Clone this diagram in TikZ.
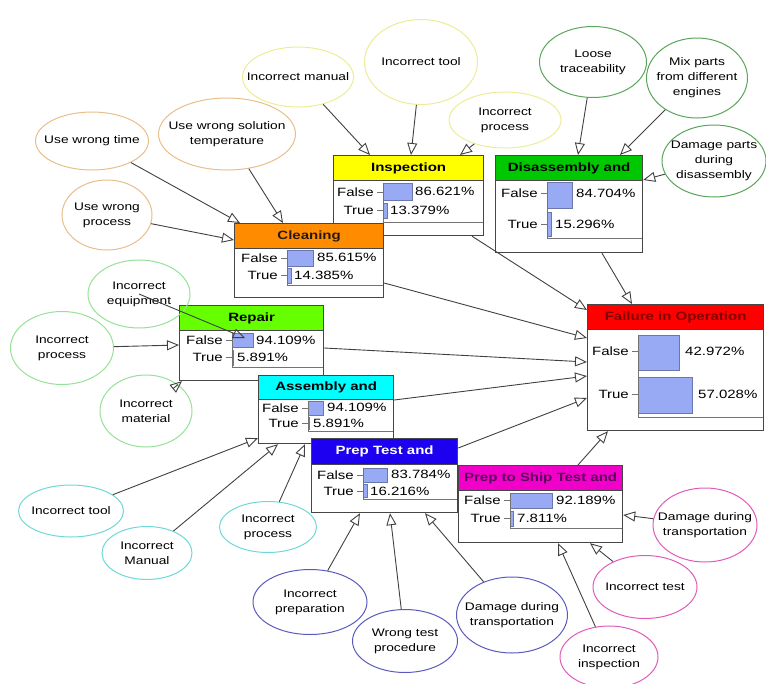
\documentclass[tikz,border=0pt]{standalone}
\usepackage{fontspec}
\setmainfont{Liberation Sans}[FakeStretch=1.25]
\usetikzlibrary{shapes.geometric,arrows.meta}

\definecolor{boxline}{RGB}{70,70,70}
\definecolor{barblue}{RGB}{153,170,245}
\definecolor{hdInsp}{RGB}{255,255,0}
\definecolor{hdDisa}{RGB}{0,200,0}
\definecolor{hdClea}{RGB}{255,140,0}
\definecolor{hdRepa}{RGB}{102,255,0}
\definecolor{hdAsse}{RGB}{0,255,255}
\definecolor{hdPrep}{RGB}{30,0,240}
\definecolor{hdShip}{RGB}{240,0,200}
\definecolor{hdFail}{RGB}{255,0,0}
\definecolor{ovYellow}{RGB}{236,236,150}
\definecolor{ovOrange}{RGB}{232,190,140}
\definecolor{ovGreen}{RGB}{90,165,90}
\definecolor{ovLime}{RGB}{150,225,150}
\definecolor{ovCyan}{RGB}{110,215,215}
\definecolor{ovBlue}{RGB}{90,90,190}
\definecolor{ovPink}{RGB}{225,90,185}

\tikzset{
  box/.style={draw=boxline, fill=white, line width=1.2pt, anchor=north west, inner sep=0},
  head/.style={draw=boxline, line width=1.2pt, anchor=north west, minimum height=25, inner sep=0,
    font=\fontsize{12}{14}\selectfont\bfseries},
  bar/.style={fill=barblue, draw=barblue!70!black, line width=0.4pt},
  axis/.style={draw=black!55, line width=0.8pt},
  row/.style={anchor=east, inner sep=0, font=\fontsize{12}{14}\selectfont},
  pct/.style={anchor=west, inner sep=0, font=\fontsize{12}{14}\selectfont},
  oval/.style={ellipse, draw=#1, line width=1pt, inner xsep=-25pt, inner ysep=0pt, align=center,
    font=\fontsize{11}{15}\selectfont},
  arr/.style={draw=black!75, line width=0.9pt, -{Triangle[open,length=12pt,width=10pt]}}
}

\begin{document}
\begin{tikzpicture}[x=1pt,y=-1pt]
\useasboundingbox (0,0) rectangle (766,683);

\node [box, minimum width=150, minimum height=80] (insp) at (333,155) {};
\node [head, fill=hdInsp, minimum width=150] (inspH) at (insp.north west) {Inspection};
\draw [bar] (383,183) rectangle (412,200);
\draw [bar] (383,203) rectangle (387.5,218);
\draw [axis] (383,183) -- (383,222) -- (483,222);
\draw [axis] (377,192) -- (383,192) (377,210) -- (383,210);
\node [row] (inspF) at (374,192) {False};
\node [row] (inspT) at (374,210) {True};
\node [pct] (inspFp) at (415,191) {86.621\%};
\node [pct] (inspTp) at (390,210) {13.379\%};

\node [box, minimum width=147, minimum height=97] (disa) at (495,155) {};
\node [head, fill=hdDisa, minimum width=147] (disaH) at (disa.north west) {Disassembly and};
\draw [bar] (547,182) rectangle (572,208);
\draw [bar] (547,212) rectangle (551.5,236);
\draw [axis] (547,182) -- (547,238) -- (642,238);
\draw [axis] (541,193) -- (547,193) (541,224) -- (547,224);
\node [row] (disaF) at (538,193) {False};
\node [row] (disaT) at (538,224) {True};
\node [pct] (disaFp) at (576,193) {84.704\%};
\node [pct] (disaTp) at (555,224) {15.296\%};

\node [box, minimum width=149, minimum height=74] (clea) at (234,223) {};
\node [head, fill=hdClea, minimum width=149, text=black!80!brown] (cleaH) at (clea.north west) {Cleaning};
\draw [bar] (287,250) rectangle (313,266);
\draw [bar] (287,268) rectangle (291.5,283);
\draw [axis] (287,250) -- (287,285) -- (383,285);
\draw [axis] (281,258) -- (287,258) (281,275) -- (287,275);
\node [row] (cleaF) at (278,258) {False};
\node [row] (cleaT) at (278,275) {True};
\node [pct] (cleaFp) at (317,257) {85.615\%};
\node [pct] (cleaTp) at (294,275) {14.385\%};

\node [box, minimum width=144, minimum height=75] (repa) at (179,305) {};
\node [head, fill=hdRepa, minimum width=144] (repaH) at (repa.north west) {Repair};
\draw [bar] (232,333) rectangle (253,347);
\draw [bar] (232,350) rectangle (233.5,365);
\draw [axis] (232,333) -- (232,367) -- (323,367);
\draw [axis] (226,340) -- (232,340) (226,357) -- (232,357);
\node [row] (repaF) at (223,340) {False};
\node [row] (repaT) at (223,357) {True};
\node [pct] (repaFp) at (256,340) {94.109\%};
\node [pct] (repaTp) at (237,357) {5.891\%};

\node [box, minimum width=135, minimum height=68] (asse) at (258,375) {};
\node [head, fill=hdAsse, minimum width=135, minimum height=24] (asseH) at (asse.north west) {Assembly and};
\draw [bar] (308,401) rectangle (323,415);
\draw [bar] (308,417) rectangle (309,429);
\draw [axis] (308,401) -- (308,431) -- (393,431);
\draw [axis] (302,408) -- (308,408) (302,423) -- (308,423);
\node [row] (asseF) at (299,408) {False};
\node [row] (asseT) at (299,423) {True};
\node [pct] (asseFp) at (327,407) {94.109\%};
\node [pct] (asseTp) at (313,423) {5.891\%};

\node [box, minimum width=146, minimum height=74] (prep) at (311,438) {};
\node [head, fill=hdPrep, minimum width=146, minimum height=26, text=white] (prepH) at (prep.north west) {Prep Test and};
\draw [bar] (363,468) rectangle (387,482);
\draw [bar] (363,484) rectangle (367.5,497);
\draw [axis] (363,468) -- (363,499) -- (457,499);
\draw [axis] (357,475) -- (363,475) (357,491) -- (363,491);
\node [row] (prepF) at (354,475) {False};
\node [row] (prepT) at (354,491) {True};
\node [pct] (prepFp) at (391,474) {83.784\%};
\node [pct] (prepTp) at (370,491) {16.216\%};

\node [box, minimum width=164, minimum height=77] (ship) at (458,465) {};
\node [head, fill=hdShip, minimum width=164, text={rgb,255:red,90;green,0;blue,90}] (shipH) at (ship.north west) {Prep to Ship Test and};
\draw [bar] (510,493) rectangle (552,508);
\draw [bar] (510,511) rectangle (513.5,526);
\draw [axis] (510,493) -- (510,528) -- (622,528);
\draw [axis] (504,500) -- (510,500) (504,518) -- (510,518);
\node [row] (shipF) at (501,500) {False};
\node [row] (shipT) at (501,518) {True};
\node [pct] (shipFp) at (556,500) {92.189\%};
\node [pct] (shipTp) at (517,518) {7.811\%};

\node [box, minimum width=176, minimum height=126] (fail) at (587,304) {};
\node [head, fill=hdFail, minimum width=176, text={rgb,255:red,130;green,0;blue,0}] (failH) at (fail.north west) {Failure in Operation};
\draw [bar] (638,335) rectangle (679,370);
\draw [bar] (638,377) rectangle (692.5,413);
\draw [axis] (638,335) -- (638,417) -- (763,417);
\draw [axis] (632,351) -- (638,351) (632,394) -- (638,394);
\node [row] (failF) at (629,351) {False};
\node [row] (failT) at (629,394) {True};
\node [pct] (failFp) at (685,351) {42.972\%};
\node [pct] (failTp) at (698,394) {57.028\%};

\node [oval=ovYellow, minimum width=111, minimum height=60] (im) at (298,77) {Incorrect manual};
\node [oval=ovYellow, minimum width=113, minimum height=85] (it) at (421,62) {Incorrect tool};
\node [oval=ovYellow, minimum width=112, minimum height=56] (ip) at (505,120) {Incorrect\\process};

\node [oval=ovOrange, minimum width=113, minimum height=58] (uwt) at (92,141) {Use wrong time};
\node [oval=ovOrange, minimum width=137, minimum height=72] (uws) at (227,134) {Use wrong solution\\temperature};
\node [oval=ovOrange, minimum width=90, minimum height=70] (uwp) at (107,215) {Use wrong\\process};

\node [oval=ovGreen, minimum width=107, minimum height=71] (lt) at (593,62) {Loose\\traceability};
\node [oval=ovGreen, minimum width=101, minimum height=80] (mp) at (697,78) {Mix parts\\from different\\engines};
\node [oval=ovGreen, minimum width=104, minimum height=72] (dp) at (714,161) {Damage parts\\during\\disassembly};

\node [oval=ovLime, minimum width=102, minimum height=68] (ie) at (139,294) {Incorrect\\equipment};
\node [oval=ovLime, minimum width=103, minimum height=73] (ipr) at (62,348) {Incorrect\\process};
\node [oval=ovLime, minimum width=92, minimum height=72] (imat) at (146,411) {Incorrect\\material};

\node [oval=ovCyan, minimum width=105, minimum height=52] (itool) at (71,511) {Incorrect tool};
\node [oval=ovCyan, minimum width=90, minimum height=53] (iman) at (147,553) {Incorrect\\Manual};
\node [oval=ovCyan, minimum width=97, minimum height=51] (iproc) at (268,527) {Incorrect\\process};

\node [oval=ovBlue, minimum width=114, minimum height=65] (iprep) at (310,602) {Incorrect\\preparation};
\node [oval=ovBlue, minimum width=105, minimum height=63] (wtp) at (405,641) {Wrong test\\procedure};
\node [oval=ovBlue, minimum width=111, minimum height=76] (ddt) at (512,615) {Damage during\\transportation};

\node [oval=ovPink, minimum width=104, minimum height=74] (dts) at (705,525) {Damage during\\transportation};
\node [oval=ovPink, minimum width=104, minimum height=63] (itest) at (645,587) {Incorrect test};
\node [oval=ovPink, minimum width=98, minimum height=62] (iinsp) at (609,657) {Incorrect\\inspection};

\draw [arr] (im) -- ([xshift=37pt]insp.north west);
\draw [arr] (it) -- ([xshift=78pt]insp.north west);
\draw [arr] (ip) -- ([xshift=127pt]insp.north west);

\draw [arr] (uwt) -- ([xshift=6pt]clea.north west);
\draw [arr] (uws) -- ([xshift=49pt]clea.north west);
\draw [arr] (uwp) -- ([yshift=-17pt]clea.north west);

\draw [arr] (lt) -- ([xshift=83pt]disa.north west);
\draw [arr] (mp) -- ([xshift=125pt]disa.north west);
\draw [arr] (dp) -- ([yshift=-25pt]disa.north east);

\draw [arr] (ie.center) -- ([xshift=66pt,yshift=-33pt]repa.north west);
\draw [arr] (ipr) -- ([yshift=-40pt]repa.north west);
\draw [arr] (imat) -- ([xshift=3pt]repa.south west);

\draw [arr] (itool) -- ([yshift=6pt]asse.south west);
\draw [arr] (iman) -- ([xshift=20pt]asse.south west);
\draw [arr] (iproc) -- ([xshift=47pt]asse.south west);

\draw [arr] (iprep) -- ([xshift=49pt]prep.south west);
\draw [arr] (wtp) -- ([xshift=79pt]prep.south west);
\draw [arr] (ddt) -- ([xshift=114pt]prep.south west);

\draw [arr] (dts) -- ([yshift=-50pt]ship.north east);
\draw [arr] (itest) -- ([xshift=132pt]ship.south west);
\draw [arr] (iinsp) -- ([xshift=100pt]ship.south west);

\draw [arr] ([xshift=139pt]insp.south west) -- ([yshift=-6pt]fail.north west);
\draw [arr] ([xshift=107pt]disa.south west) -- ([xshift=45pt]fail.north west);
\draw [arr] ([yshift=-60pt]clea.north east) -- ([yshift=-34pt]fail.north west);
\draw [arr] ([yshift=-43pt]repa.north east) -- ([yshift=-58pt]fail.north west);
\draw [arr] ([yshift=-25pt]asse.north east) -- ([yshift=-72pt]fail.north west);
\draw [arr] ([yshift=-10pt]prep.north east) -- ([yshift=-94pt]fail.north west);
\draw [arr] ([xshift=120pt]ship.north west) -- ([xshift=21pt]fail.south west);

\end{tikzpicture}
\end{document}
